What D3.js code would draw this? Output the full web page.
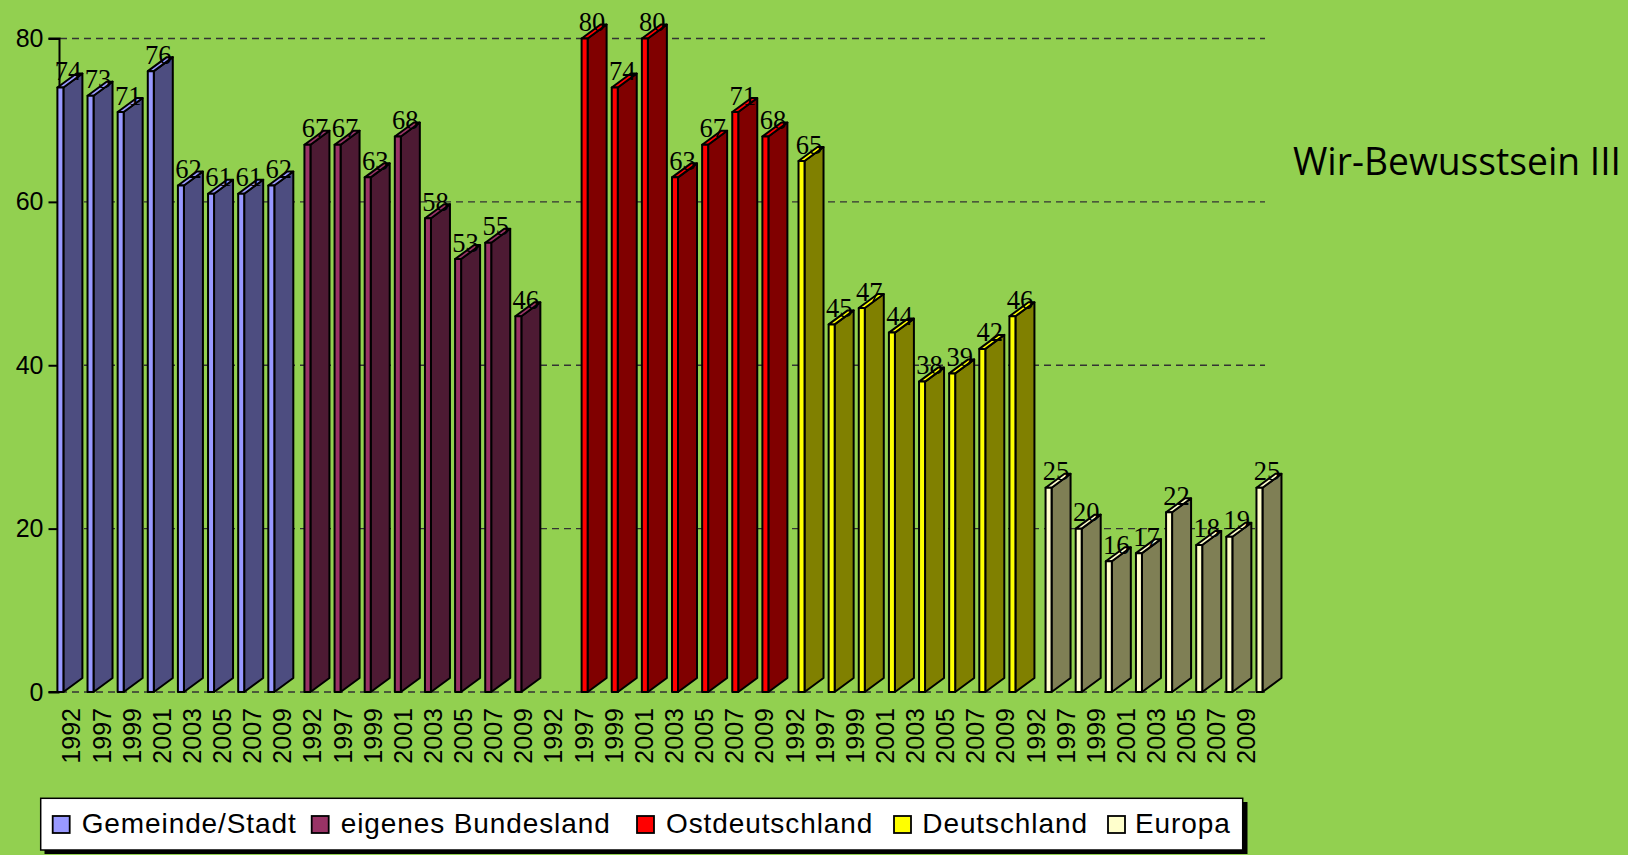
<!DOCTYPE html>
<html>
<head>
<meta charset="utf-8">
<style>
  body { margin: 0; background: #92D050; }
  svg { display: block; }
</style>
<script src="https://cdn.jsdelivr.net/npm/d3@7/dist/d3.min.js"></script>
</head>
<body>
<svg id="chart" width="1628" height="855"></svg>
<script>

// data
var years = ["1992", "1997", "1999", "2001", "2003", "2005", "2007", "2009"]
var seriesNames = ["Gemeinde/Stadt", "eigenes Bundesland", "Ostdeutschland", "Deutschland", "Europa"]
var gemeinde = [74, 73, 71, 76, 62, 61, 61, 62]
var bundesland = [67, 67, 63, 68, 58, 53, 55, 46]
var ostdeutschland = [null, 80, 74, 80, 63, 67, 71, 68]
var deutschland = [65, 45, 47, 44, 38, 39, 42, 46]
var europa = [25, 20, 16, 17, 22, 18, 19, 25]
var yTicks = [0, 20, 40, 60, 80]
var title = "Wir-Bewusstsein III"

var allValues = [gemeinde, bundesland, ostdeutschland, deutschland, europa]
var frontColors = ["#9999FF", "#993366", "#FF0000", "#FFFF00", "#FFFFCC"]
var sideColors = ["#4D4D80", "#4D1A33", "#800000", "#808000", "#7F7F55"]
// legend layout
var legendTextX = [81.7, 340.7, 666, 922.3, 1135]
var legendMarkerX = [52.7, 311.7, 637, 894, 1108]

var svg = d3.select("#chart")

// one slot per (series, year) pair, 40 in all
var slots = []
seriesNames.forEach(function(s, g) {
  years.forEach(function(yr, j) {
    slots.push({ id: g + "-" + j, group: g, year: yr, value: allValues[g][j] })
  })
})

var x = d3.scaleBand()
  .domain(slots.map(function(d) { return d.id }))
  .range([56.6, 56.6 + 40 * 30.13])

var y = d3.scaleLinear()
  .domain([0, 80])
  .range([692, 38.5])

var frontW = 6, depthX = 19, depthY = 14, groupShift = 6

// gridlines
svg.append("g")
  .selectAll("line")
  .data(yTicks)
  .enter()
  .append("line")
    .attr("x1", 60)
    .attr("x2", 1265)
    .attr("y1", function(d) { return y(d) })
    .attr("y2", function(d) { return y(d) })
    .attr("stroke", "#333")
    .attr("stroke-width", 1.3)
    .attr("stroke-dasharray", "7,5")

// y axis
var yAxis = d3.axisLeft(y)
  .tickValues(yTicks)
  .tickSize(11)
  .tickPadding(5)
var ya = svg.append("g")
  .attr("transform", "translate(59.5,0)")
  .call(yAxis)
ya.select(".domain").attr("stroke", "#000").attr("stroke-width", 2).attr("d", "M-11," + y(80) + "H0V" + y(0) + "H-11")
ya.selectAll(".tick line").attr("stroke", "#000").attr("stroke-width", 2)
ya.selectAll(".tick text")
  .attr("fill", "#000")
  .style("font-family", "'Liberation Sans', Arial, sans-serif")
  .style("font-size", "25px")

// x labels
svg.append("g")
  .selectAll("text")
  .data(slots)
  .enter()
  .append("text")
    .attr("transform", function(d) { return "translate(" + (x(d.id) + x.bandwidth() / 2) + ",708) rotate(-90)" })
    .attr("dy", "0.35em")
    .attr("text-anchor", "end")
    .style("font-family", "'Liberation Sans', Arial, sans-serif")
    .style("font-size", "25px")
    .text(function(d) { return d.year })

// bars
var bars = slots.filter(function(d) { return d.value != null })

function barX(d) { return x(d.id) + 0.8 + groupShift * d.group }

var barG = svg.append("g")
  .selectAll("g")
  .data(bars)
  .enter()
  .append("g")
    .attr("stroke", "#000")
    .attr("stroke-width", 2)
    .attr("stroke-linejoin", "round")

barG.append("path")
  .attr("fill", function(d) { return sideColors[d.group] })
  .attr("d", function(d) {
    var x0 = barX(d) + frontW, yv = y(d.value), yb = y(0)
    return "M" + x0 + "," + yb + "L" + x0 + "," + yv + "L" + (x0 + depthX) + "," + (yv - depthY) +
      "L" + (x0 + depthX) + "," + (yb - depthY) + "Z"
  })

barG.append("path")
  .attr("fill", function(d) { return frontColors[d.group] })
  .attr("d", function(d) {
    var x0 = barX(d), yv = y(d.value)
    return "M" + x0 + "," + yv + "L" + (x0 + frontW) + "," + yv + "L" + (x0 + frontW + depthX) + "," + (yv - depthY) +
      "L" + (x0 + depthX) + "," + (yv - depthY) + "Z"
  })

barG.append("rect")
  .attr("fill", function(d) { return frontColors[d.group] })
  .attr("x", barX)
  .attr("y", function(d) { return y(d.value) })
  .attr("width", frontW)
  .attr("height", function(d) { return y(0) - y(d.value) })

// value labels
svg.append("g")
  .selectAll("text")
  .data(bars)
  .enter()
  .append("text")
    .attr("x", function(d) { return barX(d) + 10.5 })
    .attr("y", function(d) { return y(d.value) - 7.5 })
    .attr("text-anchor", "middle")
    .style("font-family", "'Liberation Serif', 'Times New Roman', serif")
    .style("font-size", "26.5px")
    .text(function(d) { return d.value })

// title
svg.append("text")
  .attr("x", 1293)
  .attr("y", 175)
  .attr("textLength", 328)
  .attr("lengthAdjust", "spacingAndGlyphs")
  .style("font-family", "'Open Sans', sans-serif")
  .style("font-size", "38px")
  .text(title)

// legend
var lg = svg.append("g")
lg.append("rect")
  .attr("x", 44.5).attr("y", 802).attr("width", 1203).attr("height", 52)
  .attr("fill", "#000")
lg.append("rect")
  .attr("x", 40.7).attr("y", 798.3).attr("width", 1202).attr("height", 51.7)
  .attr("fill", "#fff").attr("stroke", "#000").attr("stroke-width", 1.5)

lg.selectAll("rect.marker")
  .data(seriesNames)
  .enter()
  .append("rect")
    .attr("class", "marker")
    .attr("x", function(d, i) { return legendMarkerX[i] })
    .attr("y", 816).attr("width", 17).attr("height", 17)
    .attr("fill", function(d, i) { return frontColors[i] })
    .attr("stroke", "#000").attr("stroke-width", 1.8)

lg.selectAll("text.label")
  .data(seriesNames)
  .enter()
  .append("text")
    .attr("class", "label")
    .attr("x", function(d, i) { return legendTextX[i] })
    .attr("y", 833)
    .style("font-family", "'Liberation Sans', Arial, sans-serif")
    .style("font-size", "28px")
    .style("letter-spacing", "0.9px")
    .text(function(d) { return d })

</script>
</body>
</html>
